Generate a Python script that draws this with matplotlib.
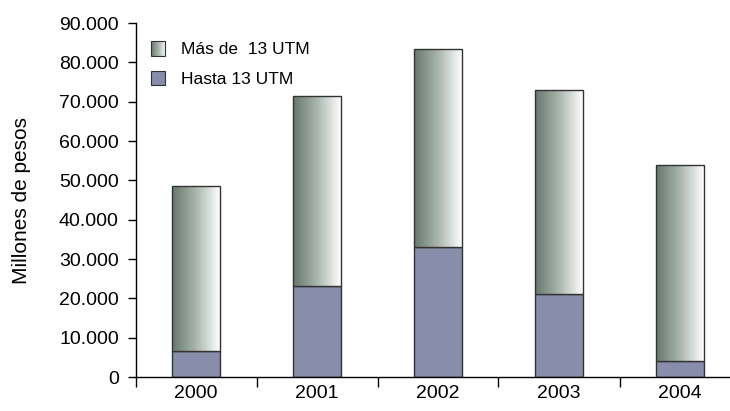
import numpy as np
import matplotlib
matplotlib.use("Agg")
import matplotlib.pyplot as plt
from matplotlib.colors import LinearSegmentedColormap
from matplotlib.ticker import FuncFormatter, FixedLocator
from matplotlib.patches import Rectangle
from matplotlib.legend_handler import HandlerBase
from matplotlib.image import BboxImage
from matplotlib.transforms import Bbox, TransformedBbox

years = ["2000", "2001", "2002", "2003", "2004"]
hasta_13 = [6600, 23100, 33000, 21100, 4100]
total = [48600, 71400, 83400, 73000, 53900]
mas_de_13 = [t - h for t, h in zip(total, hasta_13)]
series_labels = ["Más de  13 UTM", "Hasta 13 UTM"]

plt.rcParams['font.family'] = ['Liberation Sans Narrow', 'Liberation Sans', 'DejaVu Sans']

grad_cmap = LinearSegmentedColormap.from_list("g", ["#66786f", "#a9b5ad", "#ffffff"])
blue = "#878dab"
edge = "#333333"

fig = plt.figure(figsize=(7.30, 4.11), dpi=100)
ax = fig.add_axes([135.5 / 730, 34 / 411, 605 / 730, 354 / 411])

x = np.arange(len(years))
w = 0.39
gradient = np.linspace(0, 1, 256).reshape(1, -1)

ax.bar(x, hasta_13, width=w, color=blue, edgecolor=edge, linewidth=1.0, zorder=2)
tops = ax.bar(x, mas_de_13, bottom=hasta_13, width=w, color="none",
              edgecolor=edge, linewidth=1.0, zorder=3)
for rect in tops:
    x0, y0 = rect.get_x(), rect.get_y()
    im = ax.imshow(gradient, cmap=grad_cmap, aspect='auto',
                   extent=(x0, x0 + rect.get_width(), y0, y0 + rect.get_height()),
                   zorder=2.5, interpolation='bilinear')
    im.set_clip_path(rect)

ax.set_xlim(-0.5, 4.5)
ax.set_ylim(0, 90000)

ax.spines['top'].set_visible(False)
ax.spines['right'].set_visible(False)
ax.spines['left'].set_linewidth(1.0)
ax.spines['bottom'].set_linewidth(1.0)

ax.yaxis.set_major_locator(FixedLocator(np.arange(0, 90001, 10000)))
ax.yaxis.set_major_formatter(FuncFormatter(lambda v, p: f"{int(v):,}".replace(",", ".")))
ax.tick_params(axis='y', direction='out', length=6, width=1, labelsize=14, pad=6)

ax.xaxis.set_major_locator(FixedLocator(np.arange(-0.5, 4.6, 1.0)))
ax.xaxis.set_major_formatter(FuncFormatter(lambda v, p: ""))
ax.xaxis.set_minor_locator(FixedLocator(x))
ax.set_xticks(x, years, minor=True)
ax.tick_params(axis='x', which='major', direction='out', length=7, width=1)
ax.tick_params(axis='x', which='minor', length=0, labelsize=14, pad=6)

ax.set_ylabel("Millones de pesos", fontsize=15, labelpad=20)


class GradientHandler(HandlerBase):
    def create_artists(self, legend, orig_handle, xdescent, ydescent, width, height, fontsize, trans):
        s = height * 1.2
        x0 = xdescent + (width - s) / 2
        y0 = ydescent + (height - s) / 2
        bb = Bbox.from_bounds(x0, y0, s, s)
        tbb = TransformedBbox(bb, trans)
        img = BboxImage(tbb, cmap=grad_cmap, interpolation='bilinear')
        img.set_data(gradient)
        r = Rectangle((x0, y0), s, s, facecolor='none', edgecolor=edge, linewidth=0.8, transform=trans)
        return [img, r]


class SquareHandler(HandlerBase):
    def create_artists(self, legend, orig_handle, xdescent, ydescent, width, height, fontsize, trans):
        s = height * 1.2
        x0 = xdescent + (width - s) / 2
        y0 = ydescent + (height - s) / 2
        r = Rectangle((x0, y0), s, s, facecolor=blue, edgecolor=edge, linewidth=0.8, transform=trans)
        return [r]


h1 = Rectangle((0, 0), 1, 1)
h2 = Rectangle((0, 0), 1, 1, facecolor=blue)
ax.legend([h1, h2], series_labels, handler_map={h1: GradientHandler(), h2: SquareHandler()},
          loc='upper left', bbox_to_anchor=(-0.003, 0.99), frameon=False, fontsize=12.5,
          handlelength=1.0, handletextpad=0.8, labelspacing=0.85)

fig.savefig("out.png", dpi=100)
